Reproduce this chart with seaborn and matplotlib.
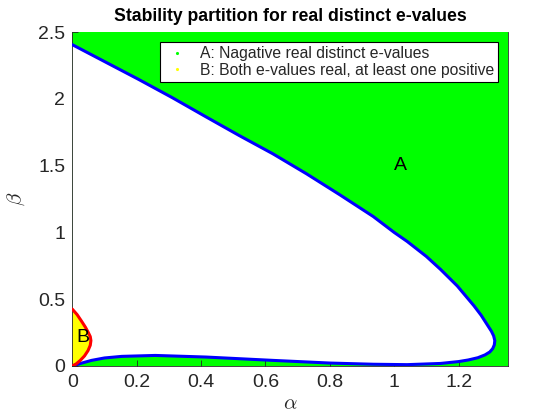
import matplotlib
matplotlib.use("Agg")
import matplotlib.pyplot as plt
import seaborn as sns
import pandas as pd

# Blue boundary curve (upper branch, from alpha=0 to the nose)
upper_alpha = [0.0, 0.206, 0.31, 0.415, 0.519, 0.623, 0.727, 0.831, 0.935, 1.0, 1.04,
               1.1, 1.144, 1.196, 1.248, 1.27, 1.29, 1.302, 1.309, 1.3125]
upper_beta = [2.406, 2.146, 2.01, 1.866, 1.725, 1.589, 1.44, 1.282, 1.119, 1.0, 0.933,
              0.82, 0.723, 0.599, 0.45, 0.38, 0.305, 0.26, 0.225, 0.19]
# Blue boundary curve (lower branch, from the nose back to the origin)
lower_alpha = [1.3125, 1.311, 1.306, 1.297, 1.282, 1.26, 1.23, 1.2, 1.144, 1.04, 0.935, 0.8,
               0.623, 0.415, 0.258, 0.154, 0.1, 0.06, 0.03, 0.0]
lower_beta = [0.19, 0.158, 0.13, 0.105, 0.083, 0.062, 0.045, 0.033, 0.019, 0.01, 0.013, 0.022,
              0.042, 0.067, 0.079, 0.072, 0.06, 0.042, 0.022, 0.0]
# Red boundary of region B
red_alpha = [0.0, 0.015, 0.029, 0.041, 0.05, 0.056, 0.058, 0.056, 0.049, 0.038, 0.025, 0.012, 0.0]
red_beta = [0.426, 0.385, 0.335, 0.29, 0.25, 0.22, 0.19, 0.155, 0.115, 0.075, 0.042, 0.015, 0.0]

title = "Stability partition for real distinct e-values"
legend_labels = ["A: Nagative real distinct e-values", "B: Both e-values real, at least one positive"]
x_ticks = [0, 0.2, 0.4, 0.6, 0.8, 1, 1.2]
x_ticklabels = ["0", "0.2", "0.4", "0.6", "0.8", "1", "1.2"]
y_ticks = [0, 0.5, 1, 1.5, 2, 2.5]
y_ticklabels = ["0", "0.5", "1", "1.5", "2", "2.5"]

sns.set_theme(style="white")
plt.rcParams['font.family'] = ['Liberation Sans', 'DejaVu Sans']
plt.rcParams['mathtext.fontset'] = 'cm'

fig = plt.figure(figsize=(5.6, 4.2), dpi=100)
ax = fig.add_axes([0.129, 0.1286, 0.779, 0.795])
ax.set_facecolor("#00ff00")

blue_df = pd.DataFrame({
    "alpha": upper_alpha + lower_alpha,
    "beta": upper_beta + lower_beta,
})
red_df = pd.DataFrame({"alpha": red_alpha, "beta": red_beta})

# white interior (region enclosed by the blue curve)
ax.fill(blue_df["alpha"], blue_df["beta"], color="white", zorder=1, lw=0)
# yellow region B
ax.fill(red_df["alpha"], red_df["beta"], color="#ffff00", zorder=2, lw=0)

sns.lineplot(data=blue_df, x="alpha", y="beta", sort=False, estimator=None,
             color="#0000ff", lw=2.2, ax=ax, zorder=3)
sns.lineplot(data=red_df, x="alpha", y="beta", sort=False, estimator=None,
             color="#ff0000", lw=2.2, ax=ax, zorder=4)

# legend proxies
ax.plot([], [], ls="none", marker=".", ms=2.5, color="#00ff00", label=legend_labels[0])
ax.plot([], [], ls="none", marker=".", ms=2.5, color="#ffff00", label=legend_labels[1])
leg = ax.legend(loc="upper right", fontsize=11.3, frameon=True, fancybox=False,
                edgecolor="black", framealpha=1, borderpad=0.25, handlelength=1.6,
                handletextpad=0.7, labelspacing=0.1, borderaxespad=0,
                bbox_to_anchor=(0.977, 0.97))
leg.get_frame().set_linewidth(0.8)

ax.text(1.02, 1.5, "A", fontsize=14, ha="center", va="center", zorder=5, color="black")
ax.text(0.033, 0.215, "B", fontsize=14, ha="center", va="center", zorder=5, color="black")

ax.set_xlim(0, 1.355)
ax.set_ylim(0, 2.5)
ax.set_xticks(x_ticks)
ax.set_xticklabels(x_ticklabels)
ax.set_yticks(y_ticks)
ax.set_yticklabels(y_ticklabels)
ax.tick_params(direction="in", length=4, width=0.6, labelsize=14, colors="#262626",
               top=False, right=False, bottom=True, left=True)
ax.tick_params(axis="x", pad=6)
ax.tick_params(axis="y", pad=5)
for s in ["left", "bottom", "right"]:
    ax.spines[s].set_visible(True)
    ax.spines[s].set_color("#262626")
    ax.spines[s].set_linewidth(0.6)
ax.spines["top"].set_visible(False)

ax.set_xlabel(r"$\alpha$", fontsize=15, color="#262626", labelpad=2)
ax.set_ylabel(r"$\beta$", fontsize=15, color="#262626", labelpad=8)
ax.set_title(title, fontsize=12.7, fontweight="bold", pad=8, color="black")

fig.savefig("out.png", dpi=100)
